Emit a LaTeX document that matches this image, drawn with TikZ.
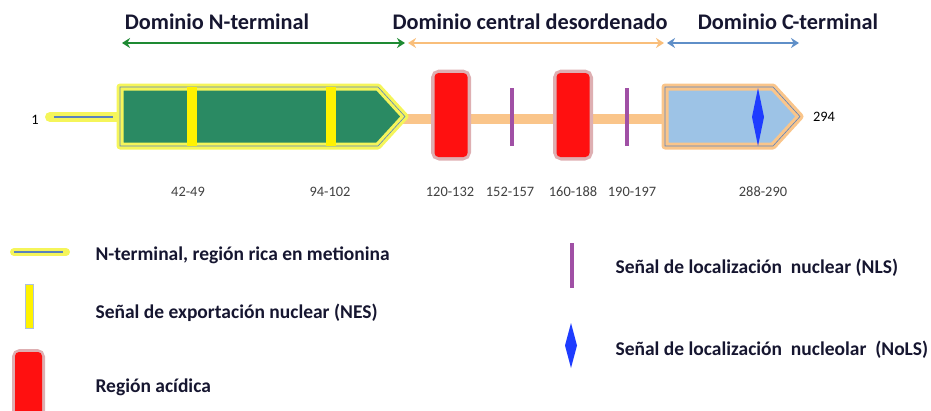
\documentclass[tikz,border=0pt]{standalone}
\usepackage{fontspec}
\setmainfont{Carlito}
\usetikzlibrary{arrows.meta}
\definecolor{domgreen}{RGB}{42,138,99}
\definecolor{glowyellow}{RGB}{245,245,90}
\definecolor{acidred}{RGB}{255,16,16}
\definecolor{acidglow}{RGB}{222,175,178}
\definecolor{nlspurple}{RGB}{160,80,165}
\definecolor{nolsblue}{RGB}{30,60,255}
\definecolor{cblue}{RGB}{157,195,230}
\definecolor{linkorange}{RGB}{250,197,138}
\definecolor{arrgreen}{RGB}{30,138,50}
\definecolor{arrorange}{RGB}{249,190,122}
\definecolor{arrblue}{RGB}{95,143,200}
\definecolor{edgeblue}{RGB}{90,130,190}
\definecolor{titleink}{RGB}{22,22,48}
\begin{document}
\begin{tikzpicture}[x=1pt, y=-1pt,
    title/.style={font=\fontsize{22.3}{26}\selectfont\bfseries, text=titleink},
    poslabel/.style={font=\fontsize{14.4}{17}\selectfont, text=black!75},
    legend/.style={font=\fontsize{19.5}{23}\selectfont\bfseries, text=titleink, anchor=west},
    domarrow/.style={line width=2.5pt, {Stealth[length=8pt,width=10pt]}-{Stealth[length=8pt,width=10pt]}}]
    \useasboundingbox (0,0) rectangle (931,410);
    % Domain titles and their arrows
    \node[title] (tN) at (217,22) {Dominio N-terminal};
    \node[title] (tM) at (530,22) {Dominio central desordenado};
    \node[title] (tC) at (788,22) {Dominio C-terminal};
    \foreach \a/\b/\c in {122/405/arrgreen, 408/664/arrorange, 667/799/arrblue}
        \draw[domarrow, \c] (\a,43) -- (\b,43);
    % Disordered linker
    \draw[linkorange, line width=10pt] (400,119) -- (670,119);
    % Methionine-rich N-terminal tail
    \draw[glowyellow, line width=10pt, line cap=round] (50,117) -- (118,117);
    \draw[edgeblue, line width=1.8pt] (54,117) -- (113,117);
    % N-terminal domain with NES bars
    \filldraw[draw=glowyellow, line width=7pt, line join=round, fill=domgreen]
        (120,87) -- (378,87) -- (405,116.5) -- (378,146) -- (120,146) -- cycle;
    \draw[edgeblue, line width=0.6pt] (120,87) -- (378,87) -- (405,116.5) -- (378,146) -- (120,146) -- cycle;
    \foreach \x in {192,331}
        \fill[yellow] (\x-5,87) rectangle (\x+5,146);
    % Acidic regions
    \foreach \x in {451,573} {
        \draw[acidglow, line width=7pt, rounded corners=5pt] (\x-16.5,73) rectangle (\x+16.5,157);
        \fill[acidred, rounded corners=4pt] (\x-16.5,73) rectangle (\x+16.5,157);
    }
    % NLS bars
    \foreach \x in {512,627}
        \draw[nlspurple, line width=3.5pt] (\x,88) -- (\x,146);
    % C-terminal domain with NoLS
    \filldraw[draw=linkorange, line width=7pt, line join=round, fill=cblue]
        (665,87) -- (773,87) -- (800,116.5) -- (773,146) -- (665,146) -- cycle;
    \draw[edgeblue, line width=0.6pt] (665,87) -- (773,87) -- (800,116.5) -- (773,146) -- (665,146) -- cycle;
    \fill[nolsblue] (758,88) -- (764,117) -- (758,146) -- (752,117) -- cycle;
    % Residue numbers
    \node[poslabel, text=black] (first) at (35,120) {1};
    \node[poslabel, text=black] (last) at (824,117) {294};
    \foreach \x/\t in {188/42-49, 330/94-102, 450/120-132, 510/152-157, 573/160-188, 632/190-197, 763/288-290}
        \node[poslabel] (p\x) at (\x,192) {\t};
    % Legend
    \draw[glowyellow, line width=8pt, line cap=round] (14,252) -- (66,252);
    \draw[edgeblue, line width=1.5pt] (14,252) -- (63,252);
    \node[legend] (lMet) at (92,255) {N-terminal, región rica en metionina};
    \filldraw[draw=edgeblue!50, fill=yellow, line width=0.6pt] (25,284) rectangle (33,328);
    \node[legend] (lNES) at (92,313) {Señal de exportación nuclear (NES)};
    \draw[acidglow, line width=6pt, rounded corners=5pt] (15,352) rectangle (42,430);
    \fill[acidred, rounded corners=4pt] (15,352) rectangle (42,430);
    \node[legend] (lAcid) at (92,387) {Región acídica};
    \draw[nlspurple, line width=3.5pt] (572,243) -- (572,288);
    \node[legend] (lNLS) at (612,268) {Señal de localización\ \ nuclear (NLS)};
    \fill[nolsblue] (571,323) -- (577,345.5) -- (571,368) -- (565,345.5) -- cycle;
    \node[legend] (lNoLS) at (612,350) {Señal de localización\ \ nucleolar\ \ (NoLS)};
\end{tikzpicture}
\end{document}
